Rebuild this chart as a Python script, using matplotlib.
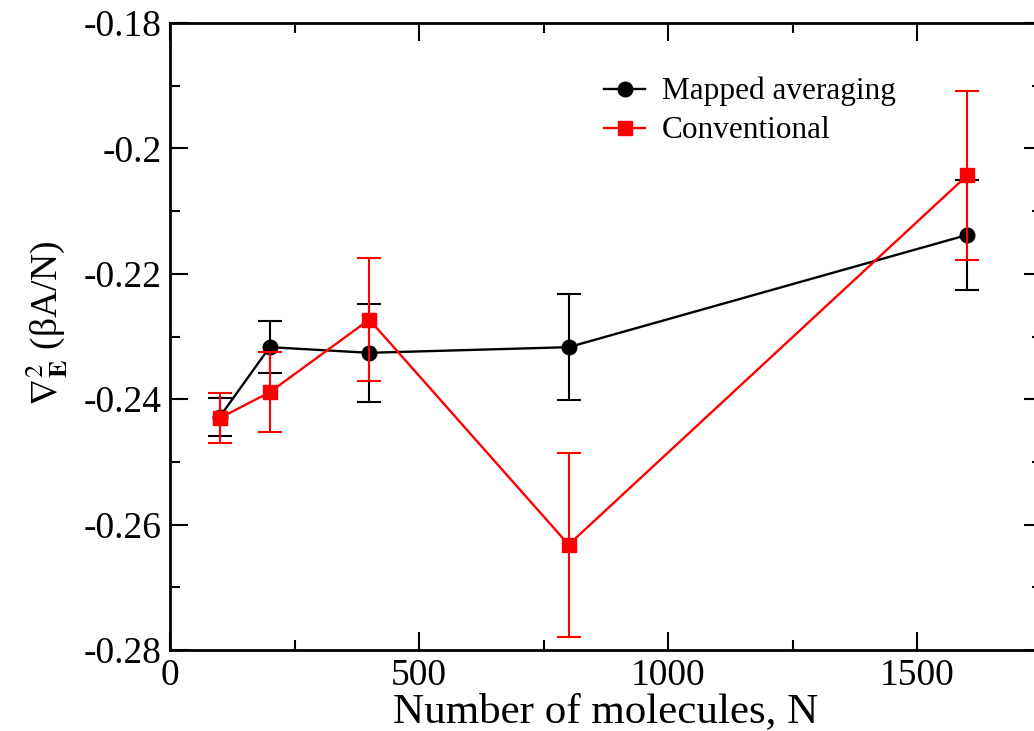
import matplotlib
matplotlib.use("Agg")
import matplotlib.pyplot as plt
from matplotlib.ticker import MultipleLocator

# system sizes and free-energy curvature estimates
n_molecules = [100, 200, 400, 800, 1600]

mapped = [-0.2428, -0.2317, -0.2326, -0.2317, -0.2138]
mapped_err = [0.0030, 0.0041, 0.0078, 0.0085, 0.0088]

conventional = [-0.2430, -0.2389, -0.2273, -0.2632, -0.2043]
conventional_err = [0.0040, 0.0064, 0.0098, 0.0147, 0.0135]

plt.rcParams["font.family"] = ["Liberation Serif", "DejaVu Serif"]
plt.rcParams["mathtext.fontset"] = "stix"

fig = plt.figure(figsize=(10.34, 7.31), dpi=100)
ax = fig.add_axes([0.1644, 0.1108, 0.8433, 0.8577])

ax.errorbar(n_molecules, mapped, yerr=mapped_err, fmt="none", ecolor="black",
            elinewidth=1.5, capsize=8.5, capthick=1.5, zorder=2)
ax.plot(n_molecules, mapped, color="black", lw=1.7, marker="o", ms=10.5,
        label="Mapped averaging", zorder=3)

ax.errorbar(n_molecules, conventional, yerr=conventional_err, fmt="none",
            ecolor="red", elinewidth=1.5, capsize=8.5, capthick=1.5, zorder=4)
ax.plot(n_molecules, conventional, color="red", lw=1.7, marker="s", ms=9.5,
        label="Conventional", zorder=5)

ax.set_xlim(0, 1750)
ax.set_ylim(-0.28, -0.18)
ax.xaxis.set_major_locator(MultipleLocator(500))
ax.xaxis.set_minor_locator(MultipleLocator(250))
ax.yaxis.set_major_locator(MultipleLocator(0.02))
ax.yaxis.set_minor_locator(MultipleLocator(0.01))
ax.set_yticks([-0.28, -0.26, -0.24, -0.22, -0.2, -0.18])
ax.set_yticklabels(["-0.28", "-0.26", "-0.24", "-0.22", "-0.2", "-0.18"])
ax.set_xticks([0, 500, 1000, 1500])
ax.set_xticklabels(["0", "500", "1000", "1500"])

ax.tick_params(which="both", direction="in", top=True, right=True,
               width=1.5, labelsize=27, pad=6)
ax.tick_params(which="major", length=13)
ax.tick_params(which="minor", length=7)
for spine in ax.spines.values():
    spine.set_linewidth(2)

ax.set_xlabel("Number of molecules, N", fontsize=31, labelpad=0)
ax.set_ylabel(r"$\nabla^2_{\mathbf{E}}$ (βA/N)", fontsize=27)
ax.yaxis.set_label_coords(-0.115, 0.522)

ax.legend(loc="upper left", bbox_to_anchor=(0.498, 0.914), frameon=False,
          fontsize=22.5, handlelength=1.3, handletextpad=0.55,
          labelspacing=0.32, borderaxespad=0, borderpad=0)

fig.savefig("out.png", dpi=100)
